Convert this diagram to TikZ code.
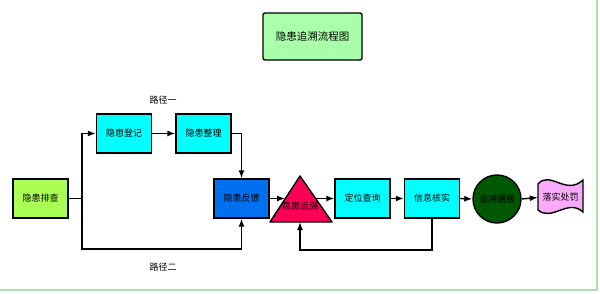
\documentclass[tikz,border=0pt]{standalone}
\usepackage{fontspec}
\setmainfont{Noto Sans CJK SC}
\usetikzlibrary{arrows.meta}
\definecolor{titlegreen}{HTML}{AAFFAA}
\definecolor{startgreen}{HTML}{AAFF55}
\definecolor{boxcyan}{HTML}{00FFFF}
\definecolor{boxblue}{HTML}{0070F0}
\definecolor{tricrimson}{HTML}{FF0058}
\definecolor{circgreen}{HTML}{005800}
\definecolor{wavepink}{HTML}{FAAAFA}
\definecolor{framegreen}{HTML}{B0DDB0}
\begin{document}
\begin{tikzpicture}[x=1pt,y=-1pt,
  every node/.style={font=\fontsize{9}{11}\selectfont, text=black},
  box/.style={draw=black, line width=1.4pt, minimum width=55pt, minimum height=39pt, inner sep=0pt},
  conn/.style={line width=1.4pt, -{Latex[length=8pt,width=6pt]}},
  plainline/.style={line width=1.4pt}]
\useasboundingbox (0,0) rectangle (600,293);
% frame
\draw[framegreen, line width=2pt] (597,0) -- (597,290) -- (0,290);
% title
\node[draw=black, line width=1.4pt, rounded corners=2pt, fill=titlegreen, minimum width=99pt, minimum height=47pt, font=\fontsize{10.5}{12}\selectfont] (title) at (312.5,36.5) {隐患追溯流程图};
% nodes
\node[box, fill=startgreen] (pc) at (40.5,198.5) {隐患排查};
\node[box, fill=boxcyan] (dj) at (124,133.5) {隐患登记};
\node[box, fill=boxcyan] (zl) at (203.5,133.5) {隐患整理};
\node[box, fill=boxblue] (fb) at (241.5,198.5) {隐患反馈};
\node[box, fill=boxcyan] (dw) at (362.5,198.5) {定位查询};
\node[box, fill=boxcyan] (hs) at (432,198.5) {信息核实};
\node[draw=black, line width=1.4pt, circle, fill=circgreen, minimum size=48pt, inner sep=0pt] (tb) at (497,199) {追溯通报};
% triangle
\coordinate (triA) at (300,176);
\coordinate (triB) at (300,222);
\coordinate (triL) at (285,198.5);
\coordinate (triR) at (316,198.5);
\draw[line width=1.4pt, fill=tricrimson, line join=round] (270,222) -- (triA) -- (332,222) -- cycle;
\node (trilabel) at (300,206.5) {隐患追溯};
% wave shape
\draw[line width=1.4pt, fill=wavepink] (538,184) .. controls (550,170) and (566,196) .. (583,180) -- (583,212) .. controls (568,198) and (552,222) .. (538,210) -- cycle;
\node[minimum width=45pt, minimum height=26pt, inner sep=0pt] (lp) at (560.5,197.5) {落实处罚};
% labels
\node (p1) at (163,100) {路径一};
\node (p2) at (163,267) {路径二};
% connectors
\coordinate (branch) at (82,198.5);
\coordinate (low) at (82,249);
\draw[plainline] (pc.east) -- (branch);
\draw[conn] (branch) |- (dj.west);
\draw[conn] (branch) |- (low) -| (fb.south);
\draw[conn] (dj.east) -- (zl.west);
\draw[conn] (zl.east) -| (fb.north);
\draw[conn] (fb.east) -- (triL);
\draw[conn] (triR) -- (dw.west);
\draw[conn] (dw.east) -- (hs.west);
\draw[conn] (hs.east) -- (tb.west);
\draw[conn] (tb.east) -- (lp.west);
\coordinate (loop) at (432,250);
\draw[conn] (hs.south) |- (loop) -| (triB);
\end{tikzpicture}
\end{document}
